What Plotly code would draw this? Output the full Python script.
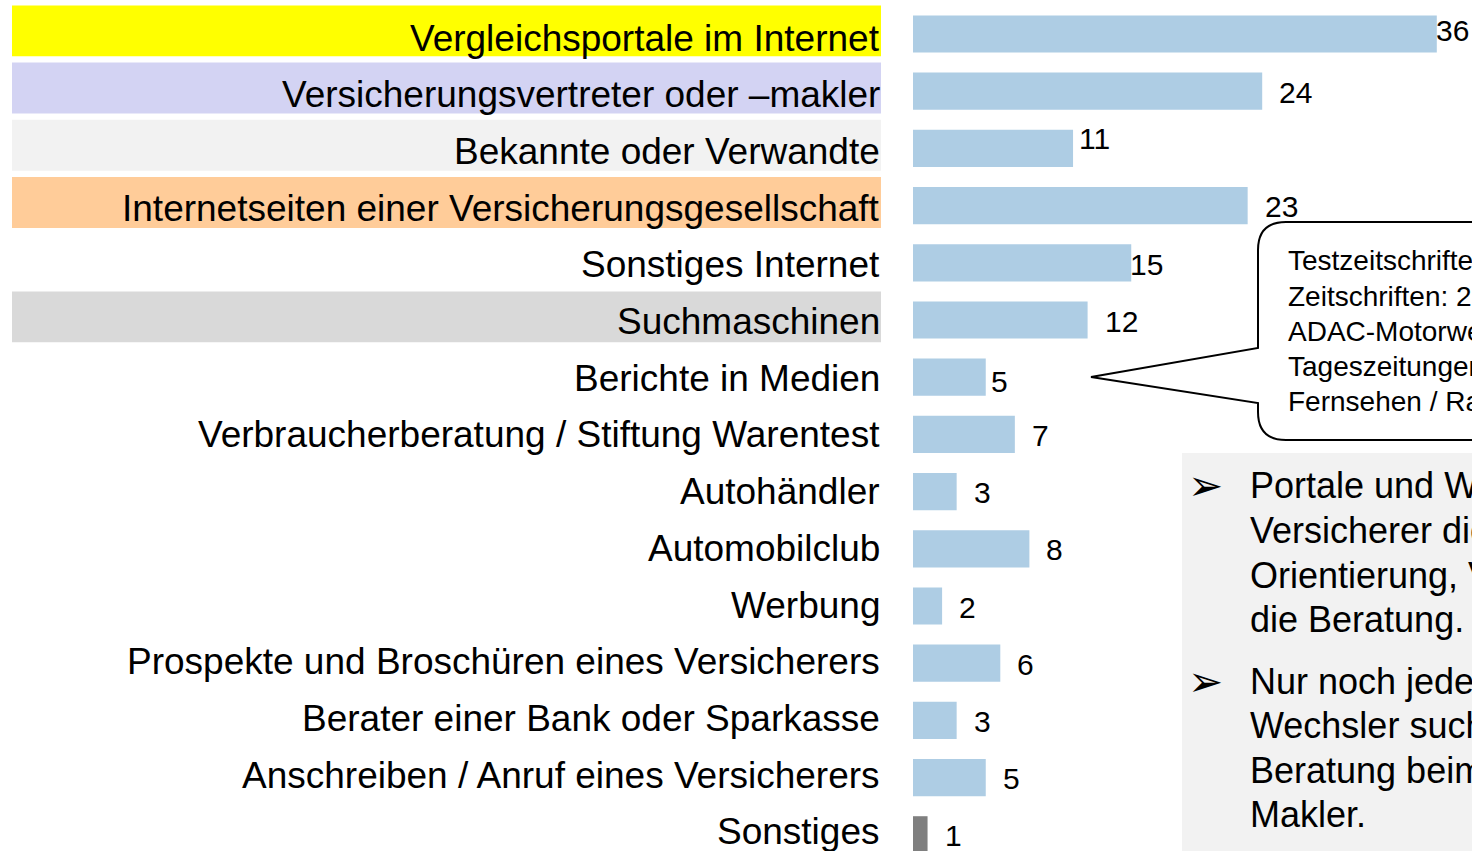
import plotly.graph_objects as go

# ---------------- data ----------------
categories = [
    "Vergleichsportale im Internet",
    "Versicherungsvertreter oder \u2013makler",
    "Bekannte oder Verwandte",
    "Internetseiten einer Versicherungsgesellschaft",
    "Sonstiges Internet",
    "Suchmaschinen",
    "Berichte in Medien",
    "Verbraucherberatung / Stiftung Warentest",
    "Autoh\u00e4ndler",
    "Automobilclub",
    "Werbung",
    "Prospekte und Brosch\u00fcren eines Versicherers",
    "Berater einer Bank oder Sparkasse",
    "Anschreiben / Anruf eines Versicherers",
    "Sonstiges",
]
values = [36, 24, 11, 23, 15, 12, 5, 7, 3, 8, 2, 6, 3, 5, 1]

label_backgrounds = {
    "Vergleichsportale im Internet": "#ffff00",
    "Versicherungsvertreter oder \u2013makler": "#d3d3f3",
    "Bekannte oder Verwandte": "#f2f2f2",
    "Internetseiten einer Versicherungsgesellschaft": "#ffcc99",
    "Suchmaschinen": "#d9d9d9",
}

callout_lines = [
    "Testzeitschriften: 1",
    "Zeitschriften: 2",
    "ADAC-Motorwelt: 1",
    "Tageszeitungen: 1",
    "Fernsehen / Radio: 1",
]
bullet_1 = ["Portale und Websites der", "Versicherer dienen der", "Orientierung, Vermittler", "die Beratung."]
bullet_2 = ["Nur noch jeder vierte", "Wechsler sucht die", "Beratung beim Vertreter /", "Makler."]

# ---------------- layout constants ----------------
W, H = 1472, 851
PLOT_LEFT = 913
ROW0 = 34.0
ROW_STEP = 57.2
PX_PER_UNIT = 14.55
FONT = "Liberation Sans, Arial, sans-serif"


def px_x(px):
    return px / W


def px_y(py):
    return 1 - py / H


n = len(categories)
y_idx = list(range(n))
bar_colors = ["#7f7f7f" if c == "Sonstiges" else "#aecde4" for c in categories]

fig = go.Figure(
    go.Bar(
        x=values,
        y=y_idx,
        orientation="h",
        width=0.65,
        marker=dict(color=bar_colors, line=dict(width=0)),
        hoverinfo="skip",
    )
)

shapes = []
annotations = []

# label backgrounds + labels
for i, c in enumerate(categories):
    if c in label_backgrounds:
        shapes.append(dict(
            type="rect", xref="paper", yref="y",
            x0=px_x(12), x1=px_x(881), y0=i - 0.50, y1=i + 0.39,
            fillcolor=label_backgrounds[c], line=dict(width=0), layer="below",
        ))
    annotations.append(dict(
        text=c, xref="paper", yref="y", x=px_x(882), y=i,
        xanchor="right", yanchor="middle", yshift=-4 + 0.5 * i, showarrow=False,
        font=dict(family=FONT, size=37, color="black"),
    ))

# value labels
label_offsets = {0: (-3, 4), 2: (4, 10), 4: (-3, -2), 6: (3, -4)}
for i, v in enumerate(values):
    dx, dy = label_offsets.get(i, (15, -1))
    annotations.append(dict(
        text=str(v), xref="x", yref="y", x=v, y=i,
        xanchor="left", yanchor="middle", xshift=dx, yshift=dy, showarrow=False,
        font=dict(family=FONT, size=30, color="black"),
    ))

# callout bubble
pts = [
    ("M", 1700, 222), ("L", 1286, 222), ("Q", 1258, 222, 1258, 250),
    ("L", 1258, 348), ("L", 1091, 377), ("L", 1258, 403), ("L", 1258, 412),
    ("Q", 1258, 440, 1286, 440), ("L", 1700, 440),
]
path = ""
for p in pts:
    cmd, coords = p[0], p[1:]
    xy = []
    for k in range(0, len(coords), 2):
        xy.append(f"{px_x(coords[k]):.5f},{px_y(coords[k + 1]):.5f}")
    path += cmd + " " + " ".join(xy) + " "
path += "Z"
shapes.append(dict(type="path", xref="paper", yref="paper", path=path,
                   fillcolor="white", line=dict(color="black", width=2)))
for k, line in enumerate(callout_lines):
    annotations.append(dict(
        text=line, xref="paper", yref="paper", x=px_x(1286), y=px_y(261 + k * 35.2),
        xanchor="left", yanchor="middle", showarrow=False,
        font=dict(family=FONT, size=28, color="black"),
    ))

# grey text box with bullets
shapes.append(dict(type="rect", xref="paper", yref="paper",
                   x0=px_x(1182), x1=px_x(1700), y0=px_y(900), y1=px_y(453),
                   fillcolor="#f2f2f2", line=dict(width=0), layer="below"))
for start, lines in ((486, bullet_1), (681, bullet_2)):
    annotations.append(dict(
        text="\u27a2", xref="paper", yref="paper", x=px_x(1186), y=px_y(start),
        xanchor="left", yanchor="middle", showarrow=False,
        font=dict(family="DejaVu Sans", size=42, color="black"),
    ))
    for k, line in enumerate(lines):
        annotations.append(dict(
            text=line, xref="paper", yref="paper", x=px_x(1248), y=px_y(start + k * 44.6),
            xanchor="left", yanchor="middle", showarrow=False,
            font=dict(family=FONT, size=36, color="black"),
        ))

fig.update_layout(
    width=W, height=H,
    margin=dict(l=0, r=0, t=0, b=0, pad=0),
    paper_bgcolor="white", plot_bgcolor="rgba(0,0,0,0)",
    showlegend=False,
    xaxis=dict(domain=[px_x(PLOT_LEFT), 1], range=[0, (W - PLOT_LEFT) / PX_PER_UNIT],
               visible=False, fixedrange=True),
    yaxis=dict(range=[(H - ROW0) / ROW_STEP, -ROW0 / ROW_STEP],
               visible=False, fixedrange=True),
    shapes=shapes,
    annotations=annotations,
)

fig.write_html("out.html", config={"displayModeBar": False},
               post_script="document.body.style.margin='0';document.body.style.overflow='hidden';")
